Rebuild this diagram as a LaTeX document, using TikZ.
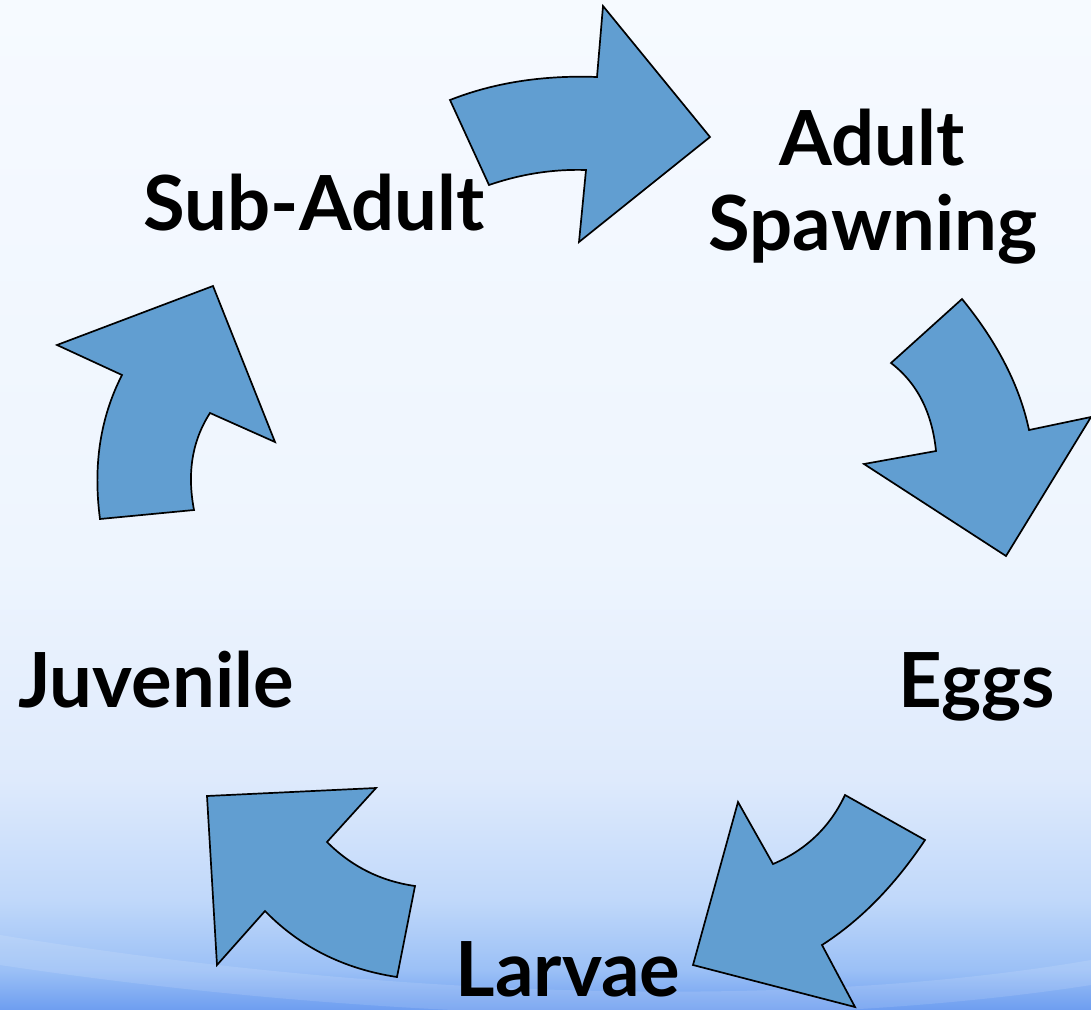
\documentclass[tikz,border=0pt]{standalone}
\usepackage{fontspec}
\setmainfont{Lato}
\definecolor{arrowblue}{RGB}{97,158,209}
\definecolor{bgA}{RGB}{246,250,255}
\definecolor{bgB}{RGB}{238,245,254}
\definecolor{bgC}{RGB}{222,234,252}
\definecolor{bgD}{RGB}{192,216,250}
\definecolor{bgE}{RGB}{155,192,246}
\definecolor{bgF}{RGB}{110,158,240}
\begin{document}
\begin{tikzpicture}[x=1pt,y=-1pt,
  cyclearrow/.style={fill=arrowblue,draw=black,line width=1.7pt,line join=miter},
  stagelabel/.style={inner sep=0pt,font=\fontsize{76}{84}\selectfont\bfseries,text=black}]
\useasboundingbox (0,0) rectangle (1091,1009);
% background
\fill[top color=bgA,bottom color=bgB] (0,0) rectangle (1091,560);
\fill[top color=bgB,bottom color=bgC] (0,560) rectangle (1091,780);
\fill[top color=bgC,bottom color=bgD] (0,780) rectangle (1091,900);
\fill[top color=bgD,bottom color=bgE] (0,900) rectangle (1091,970);
\fill[top color=bgE,bottom color=bgF] (0,970) rectangle (1091,1009.5);
\fill[white,opacity=0.12] (0,935) .. controls (400,1000) and (800,1010) .. (1091,960) -- (1091,985) .. controls (800,1030) and (400,1025) .. (0,965) -- cycle;
% arrows
\draw[cyclearrow] (450,100) .. controls (493,83) and (542,75) .. (597,77) -- (603,6) -- (710,137) -- (579,242) -- (586,170) .. controls (553,169) and (521,174) .. (489,185) -- cycle;
\draw[cyclearrow] (962,299) .. controls (998,343) and (1020,387) .. (1029,430) -- (1091,417) -- (1006,556) -- (864,464) -- (936,451) .. controls (932,412) and (917,383) .. (891,363) -- cycle;
\draw[cyclearrow] (925,840) .. controls (895,885) and (861,920) .. (822,945) -- (855,1007) -- (693,965) -- (738,802) -- (773,864) .. controls (806,850) and (830,827) .. (845,795) -- cycle;
\draw[cyclearrow] (397,977) .. controls (344,969) and (300,947) .. (265,911) -- (217,965) -- (207,796) -- (376,788) -- (327,842) .. controls (351,866) and (380,881) .. (415,886) -- cycle;
\draw[cyclearrow] (100,519) .. controls (93,466) and (100,418) .. (122,375) -- (57,345) -- (213,286) -- (275,442) -- (210,413) .. controls (192,441) and (187,473) .. (194,510) -- cycle;
% labels
\node[stagelabel,anchor=base] (subadult) at (314,230) {Sub-Adult};
\node[stagelabel,anchor=base] (adult) at (872,165) {Adult};
\node[stagelabel,anchor=base] (spawning) at (873,250) {Spawning};
\node[stagelabel,anchor=base] (eggs) at (977,707) {Eggs};
\node[stagelabel,anchor=base] (juvenile) at (156,707) {Juvenile};
\node[stagelabel,anchor=base] (larvae) at (568,996) {Larvae};
\end{tikzpicture}
\end{document}
